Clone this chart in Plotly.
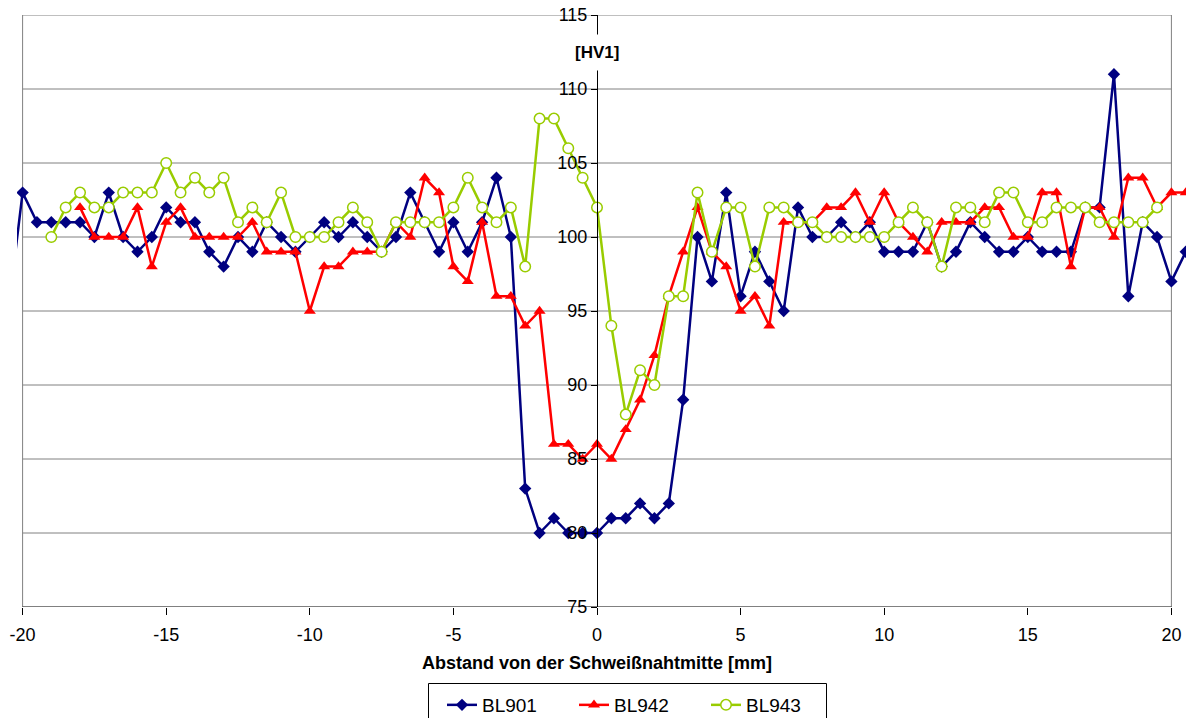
import plotly.graph_objects as go

# Distance from weld centre [mm]
x_mm = [-20.5, -20, -19.5, -19, -18.5, -18, -17.5, -17, -16.5, -16, -15.5, -15, -14.5, -14,
        -13.5, -13, -12.5, -12, -11.5, -11, -10.5, -10, -9.5, -9, -8.5, -8, -7.5, -7, -6.5,
        -6, -5.5, -5, -4.5, -4, -3.5, -3, -2.5, -2, -1.5, -1, -0.5, 0, 0.5, 1, 1.5, 2, 2.5,
        3, 3.5, 4, 4.5, 5, 5.5, 6, 6.5, 7, 7.5, 8, 8.5, 9, 9.5, 10, 10.5, 11, 11.5, 12,
        12.5, 13, 13.5, 14, 14.5, 15, 15.5, 16, 16.5, 17, 17.5, 18, 18.5, 19, 19.5, 20, 20.5]

bl901 = [95, 103, 101, 101, 101, 101, 100, 103, 100, 99, 100, 102, 101, 101,
         99, 98, 100, 99, 101, 100, 99, 100, 101, 100, 101, 100, 99, 100, 103,
         101, 99, 101, 99, 101, 104, 100, 83, 80, 81, 80, 80, 80, 81, 81, 82, 81, 82,
         89, 100, 97, 103, 96, 99, 97, 95, 102, 100, 100, 101, 100, 101, 99, 99, 99, 101, 98,
         99, 101, 100, 99, 99, 100, 99, 99, 99, 102, 102, 111, 96, 101, 100, 97, 99]

bl942 = [None, None, None, None, None, 102, 100, 100, 100, 102, 98, 101, 102, 100,
         100, 100, 100, 101, 99, 99, 99, 95, 98, 98, 99, 99, 99, 101, 100,
         104, 103, 98, 97, 101, 96, 96, 94, 95, 86, 86, 85, 86, 85, 87, 89, 92, 96,
         99, 102, 99, 98, 95, 96, 94, 101, 101, 101, 102, 102, 103, 101, 103, 101, 100, 99, 101,
         101, 101, 102, 102, 100, 100, 103, 103, 98, 102, 102, 100, 104, 104, 102, 103, 103]

bl943 = [None, None, None, 100, 102, 103, 102, 102, 103, 103, 103, 105, 103, 104,
         103, 104, 101, 102, 101, 103, 100, 100, 100, 101, 102, 101, 99, 101, 101,
         101, 101, 102, 104, 102, 101, 102, 98, 108, 108, 106, 104, 102, 94, 88, 91, 90, 96,
         96, 103, 99, 102, 102, 98, 102, 102, 101, 101, 100, 100, 100, 100, 100, 101, 102, 101, 98,
         102, 102, 101, 103, 103, 101, 101, 102, 102, 102, 101, 101, 101, 101, 102, None, None]

series_names = ["BL901", "BL942", "BL943"]
x_ticks = [-20, -15, -10, -5, 0, 5, 10, 15, 20]
x_tick_labels = ["-20", "-15", "-10", "-5", "0", "5", "10", "15", "20"]
y_ticks = [75, 80, 85, 90, 95, 100, 105, 110, 115]
y_tick_labels = ["75", "80", "85", "90", "95", "100", "105", "110", "115"]
x_title = "Abstand von der Schweißnahtmitte [mm]"
y_title = "[HV1]"

FONT = "Arial, 'Liberation Sans', sans-serif"
W, H = 1186, 718
ML, MR, MT, MB = 17, 0, 15, 111
pw = W - ML - MR
ph = H - MT - MB
px_per_unit = 28.72
x_left = -20 - 5.6 / px_per_unit
x_right = x_left + pw / px_per_unit
y0_pos = (0 - x_left) / (x_right - x_left)


def paper_x(px):
    return (px - ML) / pw


def paper_y(py):
    return (MT + ph - py) / ph


fig = go.Figure()
fig.add_trace(go.Scatter(
    x=x_mm, y=bl901, name=series_names[0], mode="lines+markers",
    line=dict(color="#000080", width=2.5),
    marker=dict(symbol="diamond", size=9.5, color="#000080"),
))
fig.add_trace(go.Scatter(
    x=x_mm, y=bl942, name=series_names[1], mode="lines+markers",
    line=dict(color="#FF0000", width=2.5),
    marker=dict(symbol="triangle-up", size=10.5, color="#FF0000"),
))
fig.add_trace(go.Scatter(
    x=x_mm, y=bl943, name=series_names[2], mode="lines+markers",
    line=dict(color="#99CC00", width=2.5),
    marker=dict(symbol="circle", size=10.5, color="white",
                line=dict(color="#99CC00", width=1.5)),
))

shapes = []
for yv in y_ticks[1:]:
    shapes.append(dict(type="line", xref="x", yref="y", x0=-20, x1=20, y0=yv, y1=yv,
                       line=dict(color="#808080", width=1), layer="below"))
for xv in (-20, 20):
    shapes.append(dict(type="line", xref="x", yref="y", x0=xv, x1=xv, y0=75, y1=115,
                       line=dict(color="#808080", width=1), layer="below"))
shapes.append(dict(type="line", xref="x", yref="y", x0=-20, x1=20, y0=75, y1=75,
                   line=dict(color="black", width=1), layer="below"))
# legend frame
shapes.append(dict(type="rect", xref="paper", yref="paper",
                   x0=paper_x(428.5), x1=paper_x(826.5), y0=paper_y(683.5), y1=paper_y(740),
                   line=dict(color="black", width=1), fillcolor="rgba(0,0,0,0)", layer="above"))

fig.update_layout(
    width=W, height=H,
    margin=dict(l=ML, r=MR, t=MT, b=MB, autoexpand=False),
    paper_bgcolor="white", plot_bgcolor="white",
    font=dict(family=FONT, size=18, color="black"),
    shapes=shapes,
    showlegend=True,
    legend=dict(orientation="h", x=paper_x(442), xanchor="left",
                y=paper_y(686), yanchor="top",
                borderwidth=0, bgcolor="rgba(0,0,0,0)",
                font=dict(family=FONT, size=19, color="black"),
                entrywidth=87, entrywidthmode="pixels", traceorder="normal"),
    xaxis=dict(range=[x_left, x_right], tickvals=x_ticks, ticktext=x_tick_labels,
               ticks="outside", ticklen=7, automargin=False,
               tickcolor="black", showgrid=False, zeroline=False, showline=False,
               tickfont=dict(family=FONT, size=18), ticklabelstandoff=4),
    yaxis=dict(range=[75, 115], tickvals=y_ticks, ticktext=y_tick_labels,
               ticks="outside", ticklen=6, automargin=False,
               tickcolor="black", showgrid=False, zeroline=False, showline=True,
               linecolor="black", linewidth=1, anchor="free", position=y0_pos,
               tickfont=dict(family=FONT, size=18)),
    annotations=[
        dict(text="<b>" + x_title + "</b>", xref="x", yref="paper", x=0,
             y=paper_y(663), showarrow=False, xanchor="center", yanchor="middle",
             font=dict(family=FONT, size=18, color="black")),
        dict(text="<b>" + y_title + "</b>", xref="x", yref="paper", x=0,
             y=paper_y(52), showarrow=False, xanchor="center", yanchor="middle",
             bgcolor="white", borderpad=8,
             font=dict(family=FONT, size=17, color="black")),
    ],
)

fig.write_html("out.html")
